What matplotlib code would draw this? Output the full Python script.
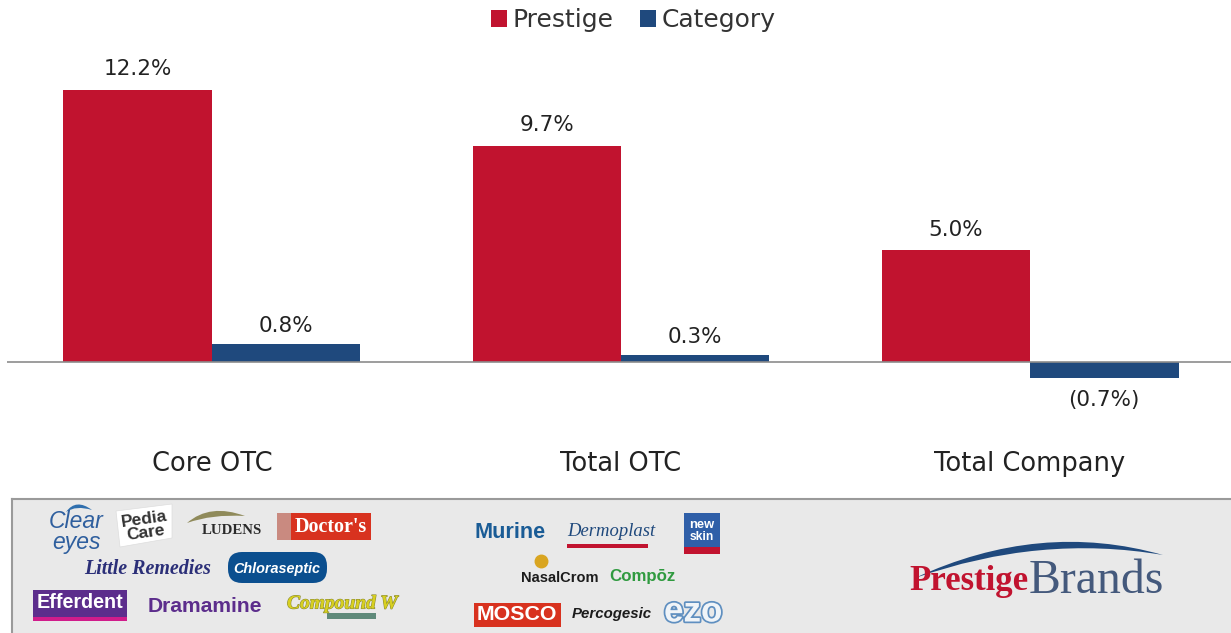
import matplotlib
matplotlib.use("Agg")
import matplotlib.pyplot as plt
import matplotlib.patheffects as pe
from matplotlib.patches import Rectangle, Polygon, FancyBboxPatch, PathPatch
from matplotlib.path import Path
import numpy as np

categories = ["Core OTC", "Total OTC", "Total Company"]
prestige = [12.2, 9.7, 5.0]
category = [0.8, 0.3, -0.7]
prestige_labels = ["12.2%", "9.7%", "5.0%"]
category_labels = ["0.8%", "0.3%", "(0.7%)"]

RED = "#c1132f"
BLUE = "#1f497d"
W, H = 1231, 633

fig = plt.figure(figsize=(W / 100, H / 100), dpi=100, facecolor="white")

# main chart, axes box lines up with the picture's pixels
ax = fig.add_axes([7 / W, 1 - 440 / H, (W - 7) / W, 400 / H])
ax.set_xlim((7 - 212) / 409, (W - 212) / 409)
ax.set_ylim(-78 / 22.3, 322 / 22.3)
x = np.arange(len(categories))
bw = 148.5 / 409
b1 = ax.bar(x - bw / 2, prestige, bw, color=RED, label="Prestige")
b2 = ax.bar(x + bw / 2, category, bw, color=BLUE, label="Category")
ax.axhline(0, color="#8c8c8c", lw=1.2, zorder=3)
for spine in ax.spines.values():
    spine.set_visible(False)
ax.set_yticks([])
ax.set_xticks([])

for xi, v, s in zip(x, prestige, prestige_labels):
    ax.annotate(s, (xi - bw / 2, v), xytext=(0, 11), textcoords="offset pixels",
                ha="center", va="bottom", fontsize=15.5, color="#222222")
for xi, v, s in zip(x, category, category_labels):
    if v >= 0:
        ax.annotate(s, (xi + bw / 2, v), xytext=(0, 8), textcoords="offset pixels",
                    ha="center", va="bottom", fontsize=15.5, color="#222222")
    else:
        ax.annotate(s, (xi + bw / 2, v), xytext=(0, -12), textcoords="offset pixels",
                    ha="center", va="top", fontsize=15.5, color="#222222")
for xi, s in zip(x, categories):
    ax.annotate(s, (xi, 0), xytext=(0, -102), textcoords="offset pixels",
                ha="center", va="center", fontsize=18.5, color="#222222")

ax.legend(handles=[b1, b2], loc="center", bbox_to_anchor=(633.5 / W, 1 - 20 / H),
          bbox_transform=fig.transFigure, ncol=2, frameon=False, fontsize=18,
          handlelength=0.65, handleheight=0.65, handletextpad=0.22, columnspacing=1.05,
          labelcolor="#333333", borderpad=0)

# overlay in pixel coordinates for the logo strip
ov = fig.add_axes([0, 0, 1, 1], zorder=5)
ov.set_xlim(0, W)
ov.set_ylim(H, 0)
ov.axis("off")
ov.add_patch(Rectangle((12, 499), W - 12, 134, fc="#e9e9e9", ec="none"))
ov.plot([12, W], [499, 499], color="#9a9a9a", lw=1.5)
ov.plot([12, 12], [499, H], color="#9a9a9a", lw=1.5)


def logo(txt, x0, x1, yc, color, **kw):
    # brand name as text, font size scaled to fill x0..x1
    t = ov.text(x0, yc, txt, color=color, ha="left", va="center", fontsize=10,
                family=kw.pop("family", "Liberation Sans"), **kw)
    w = t.get_window_extent(fig.canvas.get_renderer()).width
    t.set_fontsize(10 * (x1 - x0) / w)
    return t


def box(x0, y0, x1, y1, color):
    ov.add_patch(Rectangle((x0, y0), x1 - x0, y1 - y0, fc=color, ec="none"))


def swoosh(pts, color):
    # closed shape of two quadratic curves, first point is the tip
    a, b, c, d = pts
    verts = [a, b, c, d, a, a]
    codes = [Path.MOVETO, Path.CURVE3, Path.CURVE3, Path.CURVE3, Path.CURVE3, Path.CLOSEPOLY]
    ov.add_patch(PathPatch(Path(verts, codes), fc=color, ec="none"))


# left group
swoosh([(66, 512), (76, 498), (92, 510), (76, 505)], "#2f6fae")
ov.text(76, 532, "Clear\neyes", color="#2f5f9e", family="Liberation Sans", style="italic",
        fontsize=16.5, ha="center", va="center", linespacing=0.85)
ov.add_patch(Polygon([[116, 511], [172, 504], [172, 538], [120, 547]], fc="white", ec="#dddddd", lw=0.5))
ov.text(145, 526, "Pedia\nCare", color="#333333", family="Liberation Sans", weight="bold",
        fontsize=12.5, rotation=8, ha="center", va="center", linespacing=0.9)
swoosh([(187, 523), (210, 503), (245, 516), (212, 514)], "#8f8a5a")
logo("LUDENS", 202, 262, 530, "#2a2a2a", family="Liberation Serif", weight="bold")
box(277, 513, 371, 540, "#d8321f")
box(277, 513, 291, 540, "#c98a80")
logo("Doctor's", 295, 367, 527, "white", family="Liberation Serif", weight="bold")
logo("Little Remedies", 84, 211, 569, "#2b2f78", family="Liberation Serif", weight="bold", style="italic")
ov.add_patch(FancyBboxPatch((228, 552), 99, 31, boxstyle="round,pad=0,rounding_size=14",
                            fc="#0b4f8f", ec="none"))
logo("Chloraseptic", 233, 320, 569, "white", style="italic", weight="bold")
box(33, 590, 127, 621, "#5c2d8c")
logo("Efferdent", 37, 124, 603, "white", weight="bold")
box(33, 617, 127, 621, "#d01c8b")
logo("Dramamine", 148, 263, 606, "#5c2d8c", weight="bold")
logo("Compound W", 287, 398, 604, "#d8d020", family="Liberation Serif", weight="bold",
     style="italic", path_effects=[pe.withStroke(linewidth=0.8, foreground="#8a8a30")])
box(327, 613, 376, 619, "#5f8a7a")

# middle group
logo("Murine", 474, 545, 533, "#1a5c96", weight="bold")
logo("Dermoplast", 567, 655, 531, "#1f497d", family="Liberation Serif", style="italic")
box(567, 544, 648, 548, "#c1132f")
box(684, 513, 720, 554, "#2f5fa8")
logo("new", 689, 714, 525, "white", weight="bold")
logo("skin", 690, 714, 537, "white", weight="bold")
box(684, 547, 720, 554, "#c1132f")
logo("NasalCrom", 521, 598, 578, "#1c1c1c", weight="bold")
ov.plot([541], [561], marker="o", ms=9, color="#d9a520", ls="none")
logo("Compōz", 609, 675, 577, "#2f9a3f", weight="bold")
box(474, 603, 561, 627, "#d8321f")
logo("MOSCO", 477, 558, 615, "white", weight="bold")
logo("Percogesic", 572, 652, 614, "#1c1c1c", weight="bold", style="italic")
logo("ezo", 664, 722, 612, "#f0f4f8", weight="bold",
     path_effects=[pe.withStroke(linewidth=2.5, foreground="#5f8fc0")])

# company logo with swoosh
swoosh([(915, 578), (1040, 520), (1163, 555), (1040, 534)], "#1f497d")
logo("Prestige", 909, 1029, 581, RED, family="Liberation Serif", weight="bold")
logo("Brands", 1029, 1165, 581, "#44597c", family="Liberation Serif")

fig.savefig("out.png", dpi=100)
